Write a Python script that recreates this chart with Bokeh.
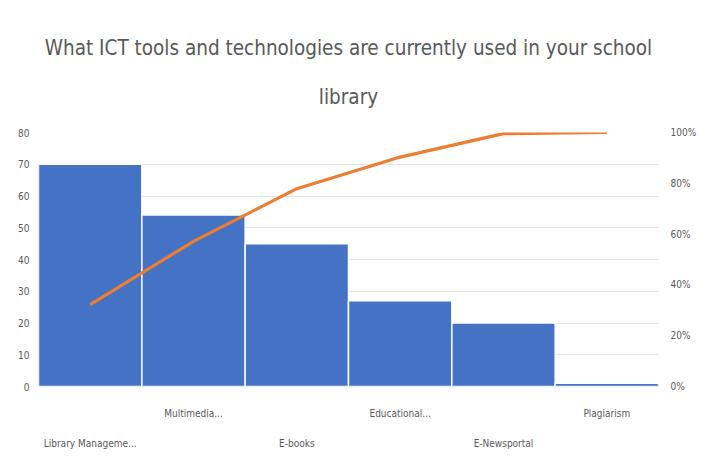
from bokeh.plotting import figure
from bokeh.models import ColumnDataSource, Range1d, LinearAxis, Title, FixedTicker, NumeralTickFormatter
from bokeh.embed import file_html
from bokeh.resources import INLINE

categories = ["Library Manageme...", "Multimedia...", "E-books", "Educational...", "E-Newsportal", "Plagiarism"]
counts = [70, 54, 45, 27, 20, 1]

total = sum(counts)
cum = []
s = 0
for c in counts:
    s += c
    cum.append(s / total)
idx = list(range(len(categories)))

FONT = "DejaVu Sans Condensed"
GRAY = "#595959"

p = figure(width=699, height=452, x_range=Range1d(-0.5, len(categories) - 0.5), y_range=Range1d(0, 80),
           output_backend="svg", toolbar_location=None,
           min_border_left=38, min_border_right=39, min_border_top=132, min_border_bottom=66)
p.extra_y_ranges = {"pct": Range1d(0, 1)}

src = ColumnDataSource(dict(x=idx, count=counts, cum=cum))
p.vbar(x="x", top="count", width=1.0, source=src, fill_color="#4472C4",
       line_color="white", line_width=1.5)
p.line(x="x", y="cum", source=src, y_range_name="pct", line_color="#ED7D31", line_width=3.2)

p.title.text = "What ICT tools and technologies are currently used in your school"
p.title.align = "center"
p.title.offset = 13
p.title.text_font = FONT
p.title.text_font_size = "20.5px"
p.title.text_font_style = "normal"
p.title.text_color = GRAY
p.title.standoff = 0
p.add_layout(Title(text="library", align="center", offset=13,
                   text_font=FONT, text_font_size="20.5px",
                   text_font_style="normal", text_color=GRAY, standoff=47), "above")

# left axis
ya = p.yaxis[0]
ya.ticker = FixedTicker(ticks=list(range(0, 81, 10)))
ya.axis_line_color = None
ya.major_tick_line_color = None
ya.minor_tick_line_color = None
ya.major_label_text_font = FONT
ya.major_label_text_font_size = "10px"
ya.major_label_text_color = GRAY
ya.major_label_standoff = 3

# right axis
ra = LinearAxis(y_range_name="pct", ticker=FixedTicker(ticks=[0, 0.2, 0.4, 0.6, 0.8, 1.0]),
                formatter=NumeralTickFormatter(format="0%"))
ra.axis_line_color = None
ra.major_tick_line_color = None
ra.minor_tick_line_color = None
ra.major_label_text_font = FONT
ra.major_label_text_font_size = "10px"
ra.major_label_text_color = GRAY
ra.major_label_standoff = 6
p.add_layout(ra, "right")

# x axes: staggered category labels
odd = [i for i in idx if i % 2 == 1]
even = [i for i in idx if i % 2 == 0]

xa = p.xaxis[0]
xa.ticker = FixedTicker(ticks=odd)
xa.major_label_overrides = {i: categories[i] for i in odd}
xa.axis_line_color = None
xa.major_tick_line_color = None
xa.minor_tick_line_color = None
xa.major_label_text_font = FONT
xa.major_label_text_font_size = "10px"
xa.major_label_text_color = GRAY
xa.major_label_standoff = 15

xb = LinearAxis(ticker=FixedTicker(ticks=even))
xb.major_label_overrides = {i: categories[i] for i in even}
xb.axis_line_color = None
xb.major_tick_line_color = None
xb.minor_tick_line_color = None
xb.major_label_text_font = FONT
xb.major_label_text_font_size = "10px"
xb.major_label_text_color = GRAY
xb.major_label_standoff = 10
p.add_layout(xb, "below")

p.xgrid.grid_line_color = None
p.ygrid.grid_line_color = "#E4E4E4"
p.outline_line_color = None
p.border_fill_color = "white"

open("out.html", "w").write(file_html(p, INLINE))
